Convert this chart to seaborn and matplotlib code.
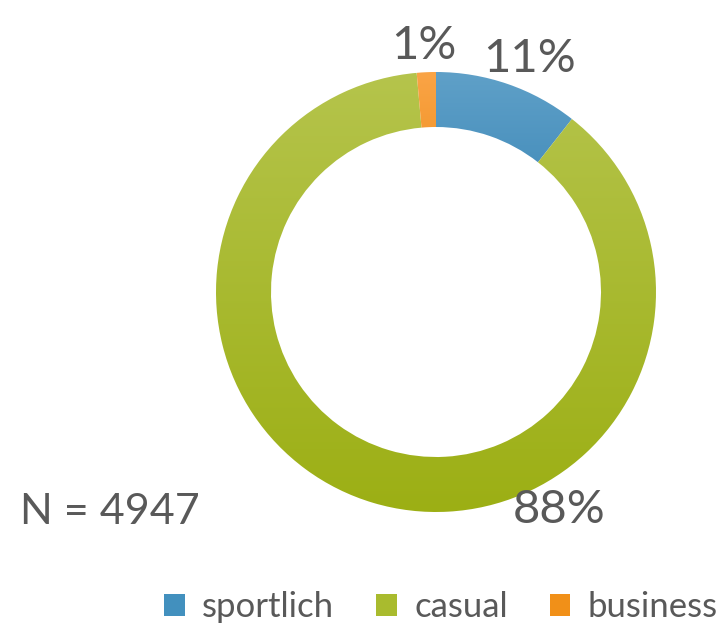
import numpy as np
import matplotlib
matplotlib.use("Agg")
from matplotlib import pyplot as plt
from matplotlib.colors import LinearSegmentedColormap
from matplotlib.patches import Patch
import seaborn as sns

categories = ["sportlich", "casual", "business"]
shares = [10.6, 88.0, 1.4]
n_total = 4947

# top / bottom colours of each slice gradient
top_colors = ["#5fa0c8", "#b5c44c", "#faa446"]
bottom_colors = ["#2c7caf", "#9caf14", "#e67f00"]
mid_colors = ["#4290be", "#a9bb2e", "#f19018"]

# where the labels sit (degrees clockwise from top, radius in ring units)
label_angles = [22, 150.5, -2.8]
label_dist = [1.14, 1.14, 1.12]

sns.set_theme(style="white")
plt.rcParams['font.family'] = ['Lato', 'DejaVu Sans']
text_col = "#595959"

fig = plt.figure(figsize=(7.19, 6.30), dpi=100)
ax = fig.add_axes([216 / 719, (630 - 292 - 220) / 630, 440 / 719, 440 / 630])

wedges, texts, autotexts = ax.pie(
    shares, startangle=90, counterclock=False, radius=1.0,
    wedgeprops=dict(width=0.25, linewidth=0), autopct='%.0f%%', pctdistance=1.13,
    textprops=dict(fontsize=34, color=text_col))

# vertical gradient inside every wedge
for w, c0, c1 in zip(wedges, top_colors, bottom_colors):
    verts = w.get_path().vertices
    x0, x1 = verts[:, 0].min(), verts[:, 0].max()
    y0, y1 = verts[:, 1].min(), verts[:, 1].max()
    cmap = LinearSegmentedColormap.from_list("g", [c1, c0])
    grad = np.linspace(0, 1, 256).reshape(-1, 1)
    im = ax.imshow(grad, cmap=cmap, extent=[x0, x1, y0, y1], origin="lower",
                   aspect="auto", zorder=2)
    im.set_clip_path(w)
    w.set_facecolor("none")

for t, a, d in zip(autotexts, label_angles, label_dist):
    r = np.deg2rad(90 - a)
    t.set_position((d * np.cos(r), d * np.sin(r)))

ax.set_xlim(-1, 1)
ax.set_ylim(-1, 1)
ax.set_aspect("equal")
ax.axis("off")

fig.text(20 / 719, 1 - 512 / 630, "N = " + str(n_total), fontsize=31,
         color=text_col, ha="left", va="center")

handles = [Patch(facecolor=c, edgecolor="none") for c in mid_colors]
leg = fig.legend(handles, categories, loc="center", bbox_to_anchor=(441 / 719, 1 - 607 / 630),
                 ncol=3, frameon=False, fontsize=25, handlelength=0.6, handleheight=0.6,
                 handletextpad=0.5, columnspacing=1.2, borderpad=0, borderaxespad=0)
for t in leg.get_texts():
    t.set_color(text_col)

fig.savefig("out.png", dpi=100)
